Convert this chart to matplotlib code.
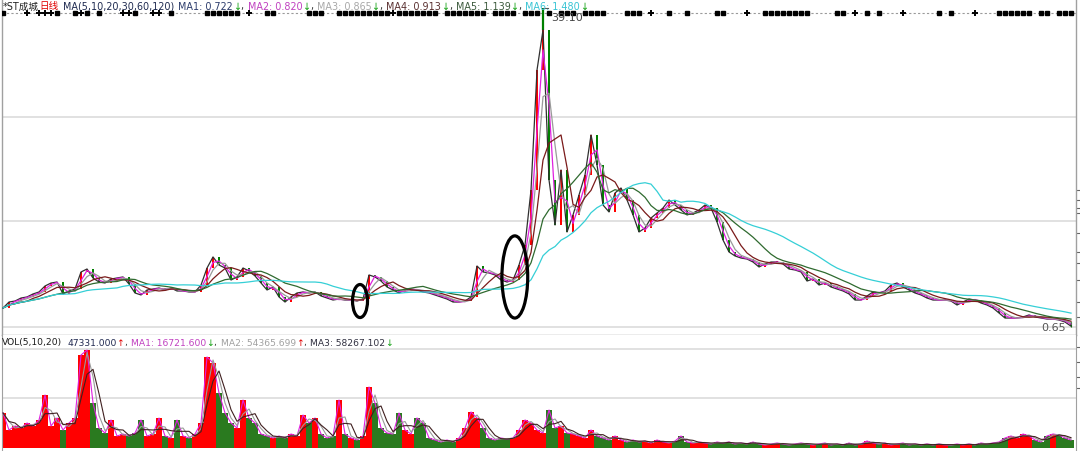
import matplotlib
matplotlib.use("Agg")
import matplotlib.pyplot as plt
import numpy as np
import pandas as pd
from matplotlib.patches import Ellipse

plt.rcParams['font.family'] = ['DejaVu Sans', 'Noto Sans CJK SC']

# ---------------- data (one bar ~ 6 trading days) ----------------
close = [
    2.94, 3.66, 3.78, 4.14, 4.27, 4.63, 4.87, 5.59, 5.95, 6.07,
    4.63, 4.99, 5.23, 7.28, 7.64, 6.55, 6.07, 5.95, 6.43, 6.55,
    6.68, 5.83, 4.75, 4.51, 5.11, 5.23, 5.35, 5.11, 5.35, 4.99,
    4.99, 4.87, 4.87, 5.71, 7.76, 9.09, 8.12, 7.76, 6.31, 6.68,
    7.76, 7.40, 6.80, 5.95, 5.11, 5.47, 4.27, 3.66, 4.27, 4.75,
    4.87, 4.75, 4.87, 4.39, 4.14, 3.90, 4.02, 3.90, 3.90, 3.78,
    4.02, 6.92, 6.68, 6.19, 5.47, 5.11, 4.75, 5.11, 5.23, 5.11,
    4.87, 4.75, 4.51, 4.27, 4.02, 3.66, 3.66, 3.78, 4.27, 8.00,
    7.28, 7.16, 6.92, 6.31, 6.07, 6.31, 8.12, 10.53, 17.16, 31.62,
    36.44, 18.36, 12.94, 19.57, 12.10, 14.15, 16.56, 18.97, 23.79, 20.17,
    15.35, 14.51, 16.80, 17.40, 15.95, 14.15, 12.10, 12.58, 13.78, 14.39,
    14.99, 15.95, 15.35, 14.75, 14.15, 14.39, 14.75, 15.35, 14.99, 13.30,
    11.13, 9.69, 9.21, 8.96, 8.84, 8.48, 7.88, 8.24, 8.48, 8.48,
    8.24, 7.64, 7.52, 7.28, 6.19, 6.43, 5.71, 5.95, 5.47, 5.23,
    4.99, 4.63, 3.90, 3.90, 4.39, 4.87, 4.75, 4.99, 5.71, 5.95,
    5.47, 5.11, 4.75, 4.51, 4.14, 3.90, 3.90, 3.90, 3.78, 3.30,
    3.66, 4.02, 3.90, 3.54, 3.30, 2.94, 2.34, 1.73, 1.73, 1.73,
    1.86, 2.10, 1.86, 1.73, 1.61, 1.61, 1.49, 1.25, 0.75,
]
volume = [
    35, 18, 22, 20, 25, 22, 28, 53, 22, 30,
    18, 25, 30, 93, 98, 45, 20, 15, 28, 12,
    14, 12, 15, 28, 12, 14, 30, 12, 10, 28,
    12, 10, 14, 25, 91, 85, 55, 35, 25, 20,
    48, 30, 25, 14, 12, 10, 12, 10, 14, 12,
    33, 25, 30, 14, 10, 12, 48, 14, 10, 8,
    12, 61, 45, 20, 15, 14, 35, 18, 14, 30,
    25, 10, 8, 6, 8, 6, 10, 20, 36, 30,
    20, 10, 8, 10, 9, 10, 18, 28, 25, 18,
    15, 38, 20, 22, 15, 14, 12, 10, 18, 12,
    10, 8, 12, 8, 6, 8, 6, 7, 5, 8,
    6, 5, 7, 12, 6, 5, 6, 5, 4, 6,
    5, 6, 4, 5, 4, 6, 4, 3, 4, 5,
    4, 3, 4, 5, 4, 3, 4, 5, 3, 4,
    3, 5, 3, 4, 7, 5, 4, 5, 3, 4,
    5, 3, 4, 3, 4, 3, 4, 3, 3, 4,
    3, 4, 3, 5, 4, 5, 6, 10, 12, 10,
    14, 12, 8, 6, 12, 14, 13, 10, 8,
]
assert len(close) == len(volume)

peak_high = 39.10
min_low = 0.65
days_per_bar = 6
ma_periods = [5, 10, 20, 30, 60, 120]
ma_last = [0.722, 0.820, 0.865, 0.913, 1.139, 1.480]
vol_periods = [5, 10, 20]
vol_last = 47331.000
vol_ma_last = [16721.600, 54365.699, 58267.102]

event_squares = [0, 9, 12, 14, 16, 22, 28, 34, 35, 36, 37, 38, 39, 44, 45, 51, 52, 53, 56, 57,
                 58, 59, 60, 61, 62, 63, 64, 66, 67, 68, 69, 70, 71, 72, 74, 75, 76, 77, 78, 79,
                 80, 82, 83, 84, 85, 87, 88, 89, 91, 93, 94, 95, 97, 98, 99, 100, 104, 105, 106,
                 111, 114, 119, 120, 127, 128, 129, 130, 131, 132, 133, 134, 139, 140, 144, 146,
                 156, 158, 166, 167, 168, 169, 170, 171, 173, 174, 176, 177, 178]
event_crosses = [4, 6, 7, 8, 13, 20, 21, 25, 26, 41, 65, 108, 124, 142, 150, 162]

# ---------------- figure ----------------
W, H = 1080, 451
fig = plt.figure(figsize=(W / 100, H / 100), dpi=100, facecolor='white')

n = len(close)
x = np.arange(n)
c = np.array(close)
o = np.concatenate([[c[0] * 0.97], c[:-1]])
up = c >= o
red, green = '#ff0000', '#008000'
cols = np.where(up, red, green)

ax = fig.add_axes([2 / W, (H - 335) / H, 1074 / W, 335 / H])
ax.set_xlim(-0.17, 178.83)
ax.set_ylim(-0.314, 40.05)

for lvl in [25.96, 13.42, 0.65]:
    ax.axhline(lvl, color='#dcdcdc', lw=1.2, zorder=0)

# candles
body_lo = np.minimum(o, c)
body_h = np.maximum(np.abs(c - o), 0.12)
ax.bar(x, body_h, bottom=body_lo, width=0.4, color=cols, linewidth=0, zorder=3)
ipk = int(np.argmax(c))
ax.vlines(ipk, c[ipk], peak_high, color=green, lw=1.6, zorder=3)
ax.vlines(n - 1, min_low, o[-1], color=green, lw=0.8, zorder=3)

# moving averages
ma_colors = ['#303030', '#e020e0', '#9a9a9a', '#7a1a1a', '#2f6a2f', '#35cfd6']
s = pd.Series(c)
for p, col in zip(ma_periods, ma_colors):
    w = max(1, int(round(p / days_per_bar)))
    ax.plot(x, s.rolling(w, min_periods=1).mean(), color=col, lw=0.9, zorder=4)

# event marker row
row = 38.49
ax.axhline(row, color='#9a9a9a', lw=0.8, ls=(0, (2, 2)), zorder=1)
ax.plot(event_squares, [row] * len(event_squares), 's', ms=3, color='black', zorder=5)
ax.plot(event_crosses, [row] * len(event_crosses), '+', ms=4.5, mew=1.4, color='black', zorder=5)

# extreme labels
ax.plot([ipk, ipk + 0.9], [peak_high, peak_high], color='#555555', lw=0.8, zorder=5)
ax.text(ipk + 1.3, 37.9, f'{peak_high:.2f}', fontsize=8, color='#444444', va='center', ha='left', zorder=6)
ax.text(177.2, 0.50, f'{min_low:.2f}', fontsize=8, color='#555555', va='center', ha='right', zorder=6)

# annotation ellipses
ax.add_patch(Ellipse((59.5, 3.78), 2.5, 3.98, fill=False, lw=2.3, ec='black', zorder=7))
ax.add_patch(Ellipse((85.3, 6.68), 4.3, 9.9, fill=False, lw=2.3, ec='black', zorder=7))

ax.spines['top'].set_visible(False)
for sp in ['left', 'right', 'bottom']:
    ax.spines[sp].set_color('#a0a0a0')
    ax.spines[sp].set_linewidth(1.0)
ax.set_xticks([])
ax.yaxis.tick_right()
ax.set_yticks([17.16, 15.95, 14.99, 14.39, 11.98, 9.69, 8.36, 6.31, 3.66, 1.86])
ax.tick_params(axis='y', length=3, width=0.8, color='#666666', labelright=False, direction='out')

# ---------------- volume panel ----------------
axv = fig.add_axes([2 / W, 0, 1074 / W, 116 / H])
axv.set_xlim(-0.17, 178.83)
axv.set_ylim(-3, 113)
for lvl in [99, 50]:
    axv.axhline(lvl, color='#dcdcdc', lw=1.2, zorder=0)
v = np.array(volume, dtype=float)
vcols = np.where(up, red, '#2a7a1f')
axv.bar(x, v, width=0.85, color=vcols, linewidth=0, zorder=2)
vs = pd.Series(v)
for p, col in zip(vol_periods, ['#e020e0', '#9a9a9a', '#402020']):
    w = max(1, int(round(p / days_per_bar)))
    axv.plot(x, vs.rolling(w, min_periods=1).mean(), color=col, lw=0.8, zorder=3)
for sp in ['top', 'bottom']:
    axv.spines[sp].set_visible(False)
for sp in ['left', 'right']:
    axv.spines[sp].set_color('#a0a0a0')
axv.set_xticks([])
axv.yaxis.tick_right()
axv.set_yticks([101, 86, 71, 60])
axv.tick_params(axis='y', length=3, width=0.8, color='#666666', labelright=False, direction='out')


# ---------------- header texts ----------------
def chain_text(pieces, x0, xend, ypix):
    r = fig.canvas.get_renderer()
    base = 10.0
    widths = []
    for txt, col, g in pieces:
        t = fig.text(0, 0, txt, fontsize=base)
        widths.append(t.get_window_extent(r).width)
        t.remove()
    gaps = sum(g for _, _, g in pieces)
    fs = base * (xend - x0 - gaps) / sum(widths)
    xx = x0
    for (txt, col, g), w in zip(pieces, widths):
        fig.text(xx / W, 1 - ypix / H, txt, fontsize=fs, color=col, ha='left', va='center')
        xx += w * fs / base + g


G, R, D = '#10a010', '#e00000', '#333333'
ma_txt_cols = ['#2c3c6c', '#c040c0', '#a8a8a8', '#5a3030', '#3c5a3c', '#38c4d4']
top = [('*ST成城', '#222222', 0), ('日线', R, 5),
       ('MA(' + ','.join(str(p) for p in ma_periods) + ')', '#1e2a50', 5)]
for k, (val, col) in enumerate(zip(ma_last, ma_txt_cols)):
    top.append((f'MA{k + 1}: {val:.3f}', col, 0))
    top.append(('↓', G, 0))
    if k < len(ma_last) - 1:
        top.append((',', D, 4))
chain_text(top, 3, 588, 6.5)

vol_arrows = ['↓', '↑', '↓']
vol_arrow_cols = [G, R, G]
vtxt = [('VOL(' + ','.join(str(p) for p in vol_periods) + ')', '#1a1a1a', 5),
        (f'{vol_last:.3f}', '#202850', 0), ('↑', R, 0), (',', D, 4)]
for k, (val, col) in enumerate(zip(vol_ma_last, ['#c040c0', '#a0a0a0', '#303040'])):
    vtxt.append((f'MA{k + 1}: {val:.3f}', col, 0))
    vtxt.append((vol_arrows[k], vol_arrow_cols[k], 0))
    if k < 2:
        vtxt.append((',', D, 4))
chain_text(vtxt, 2, 393, 343)

fig.savefig('out.png', dpi=100, facecolor='white')
